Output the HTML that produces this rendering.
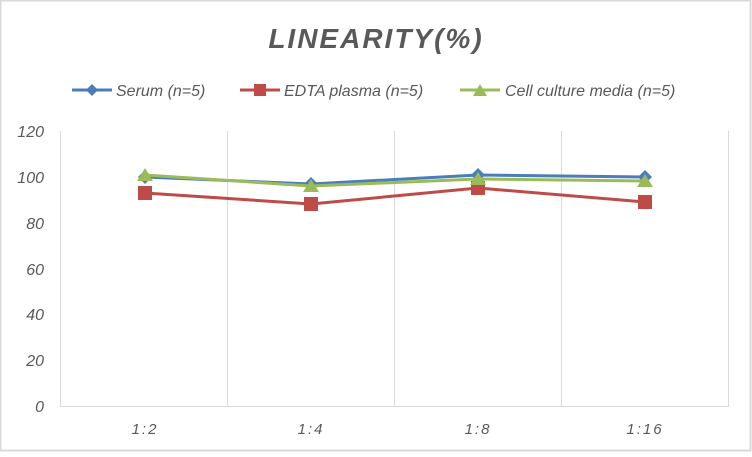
<!DOCTYPE html>
<html><head><style>body{margin:0;background:#fff}</style></head><body>
<svg width="752" height="452" xmlns="http://www.w3.org/2000/svg" font-family="Liberation Sans, sans-serif" font-style="italic">
<rect x="0.5" y="0.5" width="750" height="450" fill="#fff" stroke="#d9d9d9" stroke-width="2"/>
<text x="376" y="48" text-anchor="middle" font-size="28" font-weight="bold" fill="#595959" letter-spacing="2">LINEARITY(%)</text>
<g font-size="16" fill="#595959">
<line x1="72" y1="90" x2="112" y2="90" stroke="#4a7ebb" stroke-width="3"/><path d="M92 84 L98 90 L92 96 L86 90Z" fill="#4a7ebb"/>
<text x="116" y="96">Serum (n=5)</text>
<line x1="240" y1="90" x2="280" y2="90" stroke="#be4b48" stroke-width="3"/><rect x="254" y="84" width="12" height="12" fill="#be4b48"/>
<text x="284" y="96">EDTA plasma (n=5)</text>
<line x1="460" y1="90" x2="500" y2="90" stroke="#9bbb59" stroke-width="3"/><path d="M480 84 L487 96 L473 96Z" fill="#9bbb59"/>
<text x="505" y="96">Cell culture media (n=5)</text>
</g>
<g stroke="#d9d9d9" stroke-width="1">
<line x1="60.5" y1="131" x2="60.5" y2="406"/><line x1="227.5" y1="131" x2="227.5" y2="406"/><line x1="394.5" y1="131" x2="394.5" y2="406"/><line x1="561.5" y1="131" x2="561.5" y2="406"/><line x1="728.5" y1="131" x2="728.5" y2="406"/>
<line x1="60" y1="406.5" x2="729" y2="406.5"/>
</g>
<g font-size="16" fill="#595959" text-anchor="end">
<text x="44" y="137">120</text><text x="44" y="183">100</text><text x="44" y="229">80</text><text x="44" y="275">60</text><text x="44" y="320">40</text><text x="44" y="366">20</text><text x="44" y="412">0</text>
</g>
<g font-size="15" fill="#595959" text-anchor="middle" letter-spacing="2">
<text x="145" y="434">1:2</text><text x="311" y="434">1:4</text><text x="478" y="434">1:8</text><text x="645" y="434">1:16</text>
</g>
<polyline points="145,193 311,204 478,188 645,202" fill="none" stroke="#be4b48" stroke-width="3"/>
<g fill="#be4b48"><rect x="138" y="186" width="14" height="14"/><rect x="304" y="197" width="14" height="14"/><rect x="471" y="181" width="14" height="14"/><rect x="638" y="195" width="14" height="14"/></g>
<polyline points="145,177 311,184 478,175 645,177" fill="none" stroke="#4a7ebb" stroke-width="3"/>
<g fill="#4a7ebb"><path d="M145 170l7 7-7 7-7-7z"/><path d="M311 177l7 7-7 7-7-7z"/><path d="M478 168l7 7-7 7-7-7z"/><path d="M645 170l7 7-7 7-7-7z"/></g>
<polyline points="145,175 311,186 478,179 645,181" fill="none" stroke="#9bbb59" stroke-width="3"/>
<g fill="#9bbb59"><path d="M145 168l8 13h-16z"/><path d="M311 179l8 13h-16z"/><path d="M478 172l8 13h-16z"/><path d="M645 174l8 13h-16z"/></g>
</svg>
</body></html>
